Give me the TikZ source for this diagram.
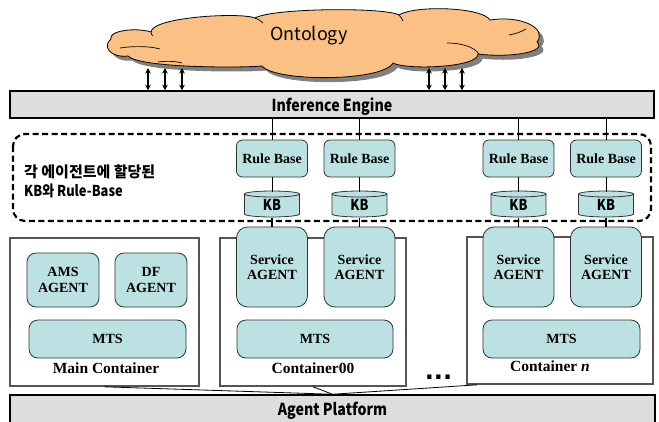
\documentclass[tikz,border=0pt]{standalone}
\usepackage{fontspec}
\setmainfont{Liberation Serif}
\newfontfamily\kr{Noto Sans CJK KR}
\newfontfamily\krc{Noto Sans CJK KR}[FakeStretch=0.86]
\newfontfamily\dv{DejaVu Sans}
\usetikzlibrary{arrows.meta}
\definecolor{tealfill}{HTML}{BCE1E3}
\definecolor{boxline}{HTML}{333333}
\definecolor{barfill}{HTML}{DDDDDD}
\definecolor{contline}{HTML}{555555}
\definecolor{cloudfill}{HTML}{FBC083}
\definecolor{shadowgray}{HTML}{808080}
\tikzset{
  graybar/.style={draw=black, line width=1.5pt, fill=barfill, minimum width=644pt,
    minimum height=27pt, inner sep=0pt, text height=14.5pt, text depth=0pt,
    font=\krc\bfseries\fontsize{16.5}{18}\selectfont},
  tealbox/.style={draw=boxline, line width=0.8pt, fill=tealfill, align=center, inner sep=0pt,
    font=\bfseries\fontsize{14}{15.5}\selectfont},
  rulebox/.style={tealbox, rounded corners=6pt, minimum width=71pt, minimum height=37pt},
  svcbox/.style={tealbox, rounded corners=11pt, minimum width=71pt, minimum height=80pt},
  agbox/.style={tealbox, rounded corners=9pt, minimum width=72pt, minimum height=54pt},
  mtsbox/.style={tealbox, rounded corners=9pt, minimum width=156pt, minimum height=38pt},
  kbtext/.style={inner sep=0pt, minimum width=55pt, minimum height=26pt,
    font=\krc\bfseries\fontsize{15}{16}\selectfont},
  kbshape/.style={draw=boxline, line width=0.8pt, fill=tealfill},
  contbox/.style={draw=contline, line width=1.6pt, fill=white, inner sep=0pt},
  contlabel/.style={inner sep=0pt, font=\bfseries\fontsize{15.5}{17}\selectfont},
  dblarrow/.style={{Stealth[length=5.5pt,width=5.5pt]}-{Stealth[length=5.5pt,width=5.5pt]}, line width=1.3pt},
  thinlink/.style={draw=black, line width=0.8pt},
  kblink/.style={draw=black, line width=1.6pt},
  dashbox/.style={draw=black, line width=2.2pt, dash pattern=on 6pt off 3.5pt, rounded corners=12pt},
}
\begin{document}
\begin{tikzpicture}[x=1pt,y=-1pt]
\useasboundingbox (0,0) rectangle (659,421);
\fill[white] (0,0) rectangle (659,421);

% cloud shadow and cloud
\def\cloudpath{(111,39)
 .. controls (108,31) and (135,27) .. (151,32)
 .. controls (152,17) and (240,12) .. (255,18)
 .. controls (272,8) and (385,7) .. (399,15)
 .. controls (415,5) and (482,7) .. (490,20)
 .. controls (520,15) and (548,28) .. (537,42)
 .. controls (548,52) and (510,58) .. (478,54)
 .. controls (478,68) and (405,70) .. (393,63)
 .. controls (382,82) and (275,82) .. (262,66)
 .. controls (240,68) and (140,68) .. (128,56)
 .. controls (110,58) and (102,46) .. (111,39) -- cycle}
\fill[shadowgray, xshift=4.5pt, yshift=-4.5pt] \cloudpath;
\draw[black, line width=0.8pt, fill=cloudfill] \cloudpath;
\draw[line width=0.7pt] (120,48) .. controls (132,46) and (150,46) .. (160,49);
\draw[line width=0.7pt] (158,62) .. controls (165,61) and (175,61) .. (182,63);
\draw[line width=0.7pt] (447,43) .. controls (462,43) and (474,47) .. (479,54);
\draw[line width=0.7pt] (509,35) .. controls (515,34) and (521,32) .. (526,29);
\draw[line width=0.7pt] (151,32) .. controls (151,34) and (152,35) .. (153,36);
\draw[line width=0.7pt] (255,18) .. controls (258,19) and (261,21) .. (263,23);
\draw[line width=0.7pt] (399,15) .. controls (401,17) and (402,19) .. (403,21);
\node[inner sep=0pt, anchor=base, font=\kr\fontsize{18}{20}\selectfont] (onto) at (309,40) {Ontology};

% inference engine
\node[graybar] (ie) at (332,104.5) {Inference Engine};

% ontology <-> inference engine arrows
\foreach \i/\x in {1/148,2/165,3/182,4/429,5/445,6/462}{
  \coordinate (oa\i) at (\x,68);
  \draw[dblarrow] (oa\i) -- (oa\i |- ie.north);
}

% dashed region
\draw[dashbox] (13,134) rectangle (651,221);
\node[anchor=west, align=left, inner sep=0pt, font=\bfseries\fontsize{15}{19}\selectfont] (note) at (24,181.5)
  {{\kr 각 에이전트에 할당된}\\{\krc KB와 Rule-Base}};

% containers
\node[contbox, minimum width=189pt, minimum height=148pt] (main) at (104.5,312) {};
\node[contbox, minimum width=186pt, minimum height=148pt] (c00) at (313,312) {};
\node[contbox, minimum width=186pt, minimum height=147pt] (cn) at (560,310.5) {};

% main container content
\node[agbox] (ams) at (63,280) {AMS\\AGENT};
\node[agbox] (df) at (151,280) {DF\\AGENT};
\node[mtsbox, minimum width=157pt] (mts0) at (107.5,339) {MTS};
\node[contlabel] (lmain) at (106,368) {Main Container};

% container00 and container n content
\node[mtsbox] (mts1) at (315,339) {MTS};
\node[contlabel] (lc00) at (313,368) {Container00};
\node[mtsbox, minimum width=157pt] (mts2) at (561.5,339) {MTS};
\node[contlabel] (lcn) at (550,366) {Container \textit{n}};

% columns: rule base, KB, service agent
\foreach \i/\x in {1/272,2/359.5,3/518.5,4/606}{
  \node[rulebox] (rb\i) at (\x,158.5) {Rule Base};
  \draw[kbshape] (\x-27.5,194) -- (\x-27.5,214)
     arc[start angle=180, end angle=360, x radius=27.5pt, y radius=3pt]
     -- (\x+27.5,194)
     arc[start angle=0, end angle=180, x radius=27.5pt, y radius=3pt] -- cycle;
  \draw[draw=boxline, line width=0.8pt] (\x-27.5,194)
     arc[start angle=180, end angle=360, x radius=27.5pt, y radius=3pt];
  \node[kbtext] (kb\i) at (\x,205) {KB};
  \node[svcbox] (s\i) at (\x,267) {Service\\AGENT};
  \draw[thinlink] (rb\i.north) -- (rb\i.north |- ie.south);
  \draw[thinlink] (rb\i.south) -- (rb\i.south |- kb\i.north);
  \draw[kblink] (kb\i.south) -- (kb\i.south |- s\i.north);
}

% dots
\node[anchor=base, inner sep=0pt, font=\dv\bfseries\fontsize{24}{26}\selectfont] (dots) at (438.5,379.5) {...};

% agent platform
\node[graybar, minimum width=645pt, minimum height=28pt, text height=13.5pt] (ap) at (332.5,409) {Agent Platform};
\coordinate (cnl) at ([xshift=11pt]cn.south west);
\draw[thinlink] (main.south) -- (ap.north);
\draw[thinlink] (c00.south) -- (ap.north);
\draw[thinlink] (cnl) -- (ap.north);
\end{tikzpicture}
\end{document}
